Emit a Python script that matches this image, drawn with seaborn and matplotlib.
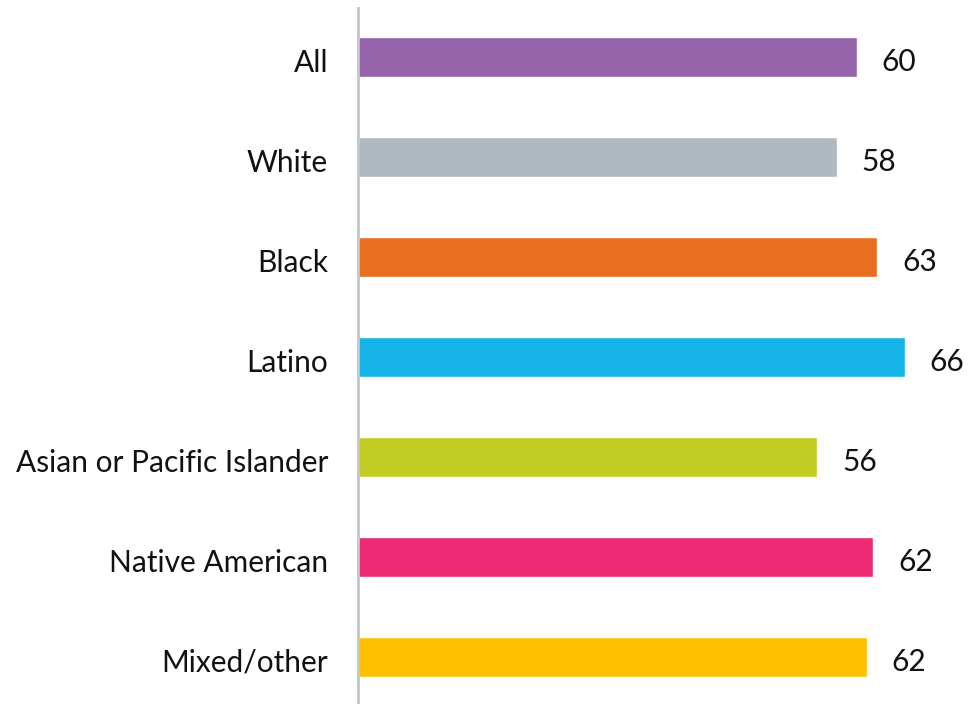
import matplotlib
matplotlib.use("Agg")
import matplotlib.pyplot as plt
import matplotlib.transforms as mtransforms
import seaborn as sns
import pandas as pd

categories = ["All", "White", "Black", "Latino", "Asian or Pacific Islander",
              "Native American", "Mixed/other"]
values = [60.3, 57.9, 62.8, 66.1, 55.5, 62.3, 61.5]
labels = ["60", "58", "63", "66", "56", "62", "62"]
colors = ["#9563A9", "#AFB9BF", "#E86E20", "#15B3E8", "#C1CD23",
          "#EE2A74", "#FFC000"]

sns.set_theme(style="white")
plt.rcParams["font.family"] = ["Lato", "DejaVu Sans"]

df = pd.DataFrame({"cat": categories, "val": values})

fig = plt.figure(figsize=(9.71, 7.04), dpi=100)
ax = fig.add_axes([358 / 971, 0, (960 - 358) / 971, (704 - 8) / 704])

sns.barplot(data=df, x="val", y="cat", hue="cat", palette=colors,
            legend=False, width=0.4, ax=ax, saturation=1)

ax.set_xlim(0, 602 / 8.27)
ax.set_ylim(6.47, -0.49)
for s in ["top", "right", "bottom"]:
    ax.spines[s].set_visible(False)
ax.spines["left"].set_color("#BFC7CF")
ax.spines["left"].set_linewidth(2)
ax.set_xticks([])
ax.set_xlabel("")
ax.set_ylabel("")
ax.tick_params(axis="y", length=0, pad=21.5, labelsize=21.5, labelcolor="#111111")
shift = mtransforms.ScaledTranslation(0, -3 / 100, fig.dpi_scale_trans)
for t in ax.get_yticklabels():
    t.set_transform(t.get_transform() + shift)

for i, (v, lab) in enumerate(zip(values, labels)):
    ax.annotate(lab, xy=(v, i), xytext=(25, -5), textcoords="offset pixels",
                ha="left", va="center", fontsize=21.5, color="#111111")

fig.savefig("out.png", dpi=100)
